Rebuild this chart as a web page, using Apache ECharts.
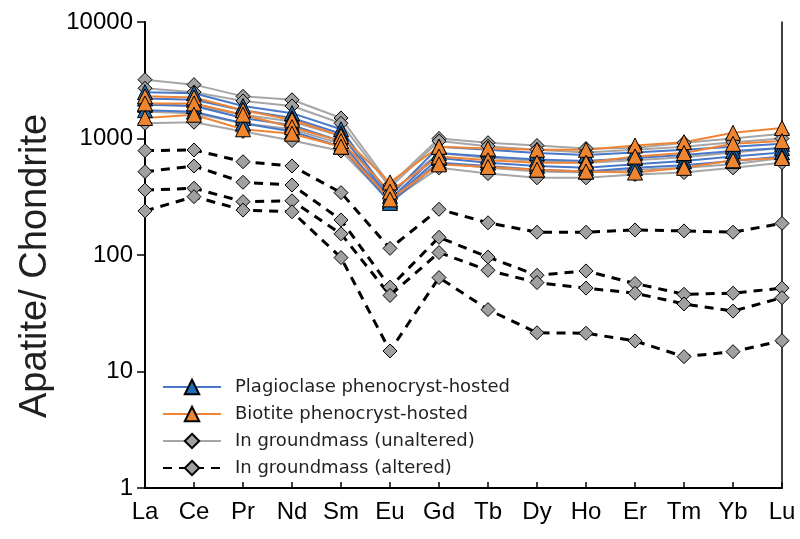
<!DOCTYPE html>
<html>
<head>
<meta charset="utf-8">
<title>Apatite REE</title>
<script src="https://cdn.jsdelivr.net/npm/echarts@6/dist/echarts.min.js"></script>
<style>
  html, body { margin: 0; padding: 0; background: #fff; }
  #chart { width: 800px; height: 539px; }
</style>
</head>
<body>
<div id="chart"></div>
<script>
var elements = ['La', 'Ce', 'Pr', 'Nd', 'Sm', 'Eu', 'Gd', 'Tb', 'Dy', 'Ho', 'Er', 'Tm', 'Yb', 'Lu'];

// plagioclase phenocryst-hosted apatite
var plag1 = [2500, 2450, 1900, 1650, 1200, 320, 850, 800, 750, 720, 760, 800, 850, 900];
var plag2 = [2200, 2150, 1750, 1500, 1100, 300, 750, 700, 660, 640, 680, 720, 780, 830];
var plag3 = [1950, 1900, 1500, 1300, 950, 290, 680, 620, 580, 560, 600, 640, 700, 760];
var plag4 = [1750, 1700, 1350, 1150, 850, 280, 620, 580, 540, 520, 560, 590, 640, 700];

// biotite phenocryst-hosted apatite
var bio1 = [2300, 2250, 1750, 1450, 1050, 420, 850, 820, 800, 800, 870, 930, 1120, 1230];
var bio2 = [2000, 2000, 1600, 1250, 950, 350, 700, 650, 620, 620, 700, 750, 900, 950];
var bio3 = [1500, 1600, 1200, 1100, 850, 300, 600, 570, 540, 520, 510, 560, 650, 680];

// groundmass, unaltered
var gmU1 = [3200, 2900, 2300, 2150, 1500, 400, 1000, 920, 870, 820, 830, 920, 1000, 1100];
var gmU2 = [2700, 2500, 2100, 1900, 1350, 380, 950, 860, 800, 760, 800, 850, 930, 1000];
var gmU3 = [2000, 1900, 1600, 1400, 1050, 340, 750, 680, 640, 620, 650, 690, 760, 830];
var gmU4 = [1700, 1650, 1350, 1200, 900, 310, 620, 560, 520, 510, 540, 560, 600, 680];
var gmU5 = [1350, 1380, 1150, 960, 780, 290, 560, 500, 460, 460, 490, 510, 560, 620];

// groundmass, altered
var gmA1 = [786, 797, 632, 581, 343, 114, 247, 189, 157, 157, 164, 161, 157, 187];
var gmA2 = [519, 580, 421, 399, 200, 53, 142, 96, 67, 73, 57, 46, 47, 52];
var gmA3 = [361, 374, 287, 292, 152, 45, 105, 74, 58, 52, 47, 38, 33, 43];
var gmA4 = [239, 317, 243, 235, 95, 15, 64, 34, 21.5, 21.3, 18.3, 13.4, 14.8, 18.4];

var legendNames = ['Plagioclase phenocryst-hosted', 'Biotite phenocryst-hosted',
  'In groundmass (unaltered)', 'In groundmass (altered)'];

function mkSeries(name, data, lineColor, symbol, fill, dashed) {
  return {
    name: name,
    type: 'line',
    data: data,
    symbol: symbol,
    symbolSize: symbol === 'triangle' ? 15 : 14,
    lineStyle: {
      color: lineColor,
      width: dashed ? 3 : 2,
      type: dashed ? [9, 7] : 'solid'
    },
    itemStyle: {
      color: fill,
      borderColor: '#000',
      borderWidth: 1
    },
    emphasis: { disabled: true },
    animation: false
  };
}

var series = [];
[gmU1, gmU2, gmU3, gmU4, gmU5].forEach(function (d) {
  series.push(mkSeries(legendNames[2], d, '#a6a6a6', 'diamond', '#a0a0a0', false));
});
[plag1, plag2, plag3, plag4].forEach(function (d) {
  series.push(mkSeries(legendNames[0], d, '#4a78c8', 'triangle', '#1f6cb4', false));
});
[bio1, bio2, bio3].forEach(function (d) {
  series.push(mkSeries(legendNames[1], d, '#f08436', 'triangle', '#f0852f', false));
});
[gmA1, gmA2, gmA3, gmA4].forEach(function (d) {
  series.push(mkSeries(legendNames[3], d, '#000', 'diamond', '#a0a0a0', true));
});

var chart = echarts.init(document.getElementById('chart'));
chart.setOption({
  backgroundColor: '#fff',
  textStyle: { fontFamily: 'Liberation Sans, Arial, sans-serif' },
  grid: { left: 145, right: 18, top: 22, bottom: 51 },
  legend: {
    data: legendNames,
    orient: 'vertical',
    left: 157,
    top: 373,
    itemWidth: 58,
    itemHeight: 18,
    itemGap: 9,
    textStyle: {
      fontFamily: 'DejaVu Sans, sans-serif',
      fontSize: 18,
      lineHeight: 18,
      color: '#231f20',
      padding: [0, 0, 0, 9]
    }
  },
  xAxis: {
    type: 'category',
    data: elements,
    boundaryGap: false,
    axisLine: { lineStyle: { color: '#000', width: 2 } },
    axisTick: { show: true, inside: true, length: 6, lineStyle: { color: '#000', width: 1.5 } },
    axisLabel: { fontSize: 24, color: '#000', margin: 12 }
  },
  yAxis: [{
    type: 'log',
    logBase: 10,
    min: 1,
    max: 10000,
    name: 'Apatite/ Chondrite',
    nameLocation: 'middle',
    nameGap: 90,
    nameTextStyle: { fontSize: 38, color: '#231f20', padding: [0, 22, 0, 0] },
    axisLine: { show: true, lineStyle: { color: '#000', width: 2 } },
    axisTick: { show: true, length: 8, lineStyle: { color: '#000', width: 1.5 } },
    axisLabel: {
      fontSize: 24,
      color: '#000',
      margin: 12,
      formatter: function (v) { return String(v); }
    },
    splitLine: { show: false }
  }, {
    type: 'log',
    logBase: 10,
    min: 1,
    max: 10000,
    position: 'right',
    axisLine: { show: true, lineStyle: { color: '#000', width: 1.5 } },
    axisTick: { show: false },
    axisLabel: { show: false },
    splitLine: { show: false }
  }],
  series: series
});
</script>
</body>
</html>
